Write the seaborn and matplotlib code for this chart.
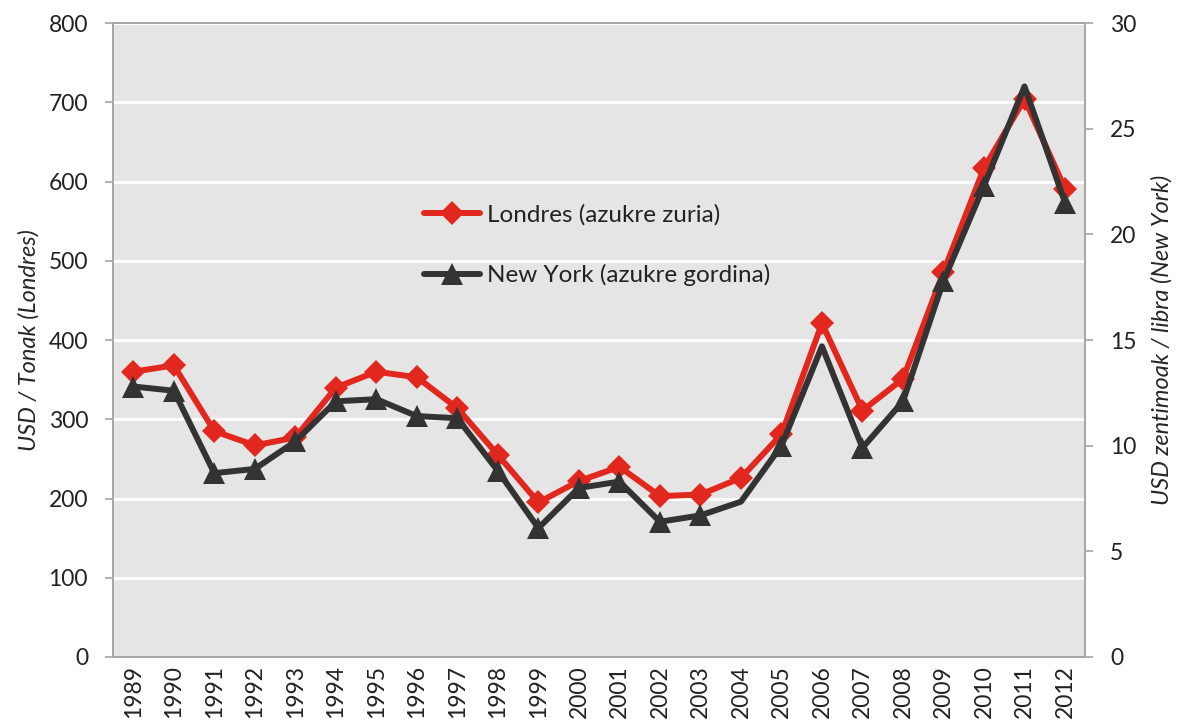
import numpy as np
import pandas as pd
import matplotlib
matplotlib.use("Agg")
import matplotlib.pyplot as plt
import seaborn as sns

# Datuak
urteak = [str(u) for u in range(1989, 2013)]
londres = [360, 368, 285, 267, 277, 340, 360, 353, 314, 255, 195, 222,
           240, 203, 205, 226, 281, 421, 311, 351, 486, 617, 704, 591]
new_york = [12.8, 12.6, 8.7, 8.9, 10.2, 12.1, 12.2, 11.4, 11.3, 8.8, 6.1, 8.0,
            8.3, 6.4, 6.7, 7.35, 10.0, 14.7, 9.9, 12.1, 17.8, 22.3, 27.0, 21.5]
ny_markerik_gabe = ["2004", "2006", "2011"]

df = pd.DataFrame({"pos": np.arange(len(urteak)), "urtea": urteak,
                   "londres": londres, "new_york": new_york})

sns.set_style("white")
plt.rcParams["font.family"] = ["Lato", "DejaVu Sans"]

gorria = "#e2271f"
beltza = "#333333"
grisa = "#a6a6a6"

fig = plt.figure(figsize=(11.9, 7.27), dpi=100)
ax = fig.add_axes([0.095, 0.0963, 0.817, 0.872])
ax.set_facecolor("#e5e5e5")

sns.lineplot(data=df, x="pos", y="londres", ax=ax, color=gorria, lw=4.3,
             marker="D", markersize=12, markeredgewidth=0,
             label="Londres (azukre zuria)", legend=False)

ax2 = ax.twinx()
marka = [i for i, u in enumerate(urteak) if u not in ny_markerik_gabe]
sns.lineplot(data=df, x="pos", y="new_york", ax=ax2, color=beltza, lw=4.3,
             marker="^", markersize=16, markeredgewidth=0, markevery=marka,
             label="New York (azukre gordina)", legend=False)

ax.set_ylim(0, 800)
ax2.set_ylim(0, 30)
ax.set_xlim(-0.5, len(urteak) - 0.5)
ax.set_yticks(range(0, 801, 100))
ax2.set_yticks(range(0, 31, 5))
ax.yaxis.grid(True, color="white", lw=2.2)
ax.set_axisbelow(True)

ax.set_xticks(df["pos"])
ax.set_xticklabels(urteak, rotation=90)
ax.tick_params(axis="x", which="major", length=0, pad=6)
ax.set_xticks(np.arange(12) * 2.165 - 0.5, minor=True)
ax.tick_params(axis="x", which="minor", length=6, color=grisa, width=1.2)

ax.tick_params(axis="y", length=6, color=grisa, width=1.2, pad=12, labelsize=16.5)
ax2.tick_params(axis="y", length=6, color=grisa, width=1.2, pad=12, labelsize=16.5)
ax.tick_params(axis="x", labelsize=16.5)
for t in ax.get_yticklabels() + ax2.get_yticklabels() + ax.get_xticklabels():
    t.set_color("#222222")

ax.set_xlabel("")
ax.set_ylabel("USD / Tonak (Londres)", fontsize=17, style="italic", labelpad=6)
ax2.set_ylabel("USD zentimoak / libra (New York)", fontsize=17, style="italic", labelpad=10)

for a in (ax, ax2):
    for s in a.spines.values():
        s.set_color(grisa)
        s.set_linewidth(1.2)

h1, l1 = ax.get_legend_handles_labels()
h2, l2 = ax2.get_legend_handles_labels()
ax2.legend(h1 + h2, l1 + l2, loc="center left", bbox_to_anchor=(0.32, 0.65),
           frameon=False, fontsize=17.5, labelspacing=1.6, handlelength=2.3,
           handletextpad=0.3, borderpad=0, borderaxespad=0, labelcolor="#222222")

fig.savefig("out.png", dpi=100)
